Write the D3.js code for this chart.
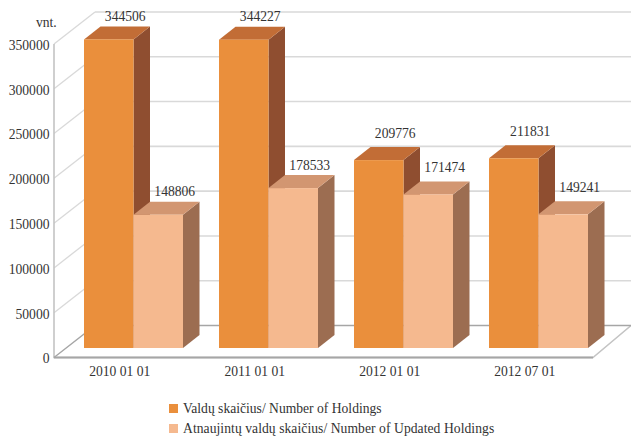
<!DOCTYPE html>
<html><head><meta charset="utf-8">
<script src="https://cdn.jsdelivr.net/npm/d3@7/dist/d3.min.js"></script>
<style>html,body{margin:0;padding:0;background:#fff}svg{display:block}text{font-family:"Liberation Serif",serif;fill:#333}</style>
</head><body><div id="c"></div>
<script>
const categories = ["2010 01 01","2011 01 01","2012 01 01","2012 07 01"];
const holdings = [344506,344227,209776,211831];
const updated = [148806,178533,171474,149241];
const seriesNames = ["Valdų skaičius/ Number of Holdings","Atnaujintų valdų skaičius/ Number of Updated Holdings"];
const yTicks = [0,50000,100000,150000,200000,250000,300000,350000];
const unit = "vnt.";

const W=631,H=436;
const svg=d3.select("#c").append("svg").attr("width",W).attr("height",H);
const y=d3.scaleLinear().domain([0,350000]).range([357.5,44]);
const x=d3.scaleBand().domain(categories).range([54,594]);
const wallDx=41, wallDy=-32;      // depth of the plot box
const barDx=16.5, barDy=-13;      // depth of each bar
const baseDx=30, baseDy=-9.5;     // bar offset from box front
const barW=49.5;
const grid="#d9d9d9", axisC="#a6a6a6";

// walls
const g=svg.append("g");
yTicks.slice(1).forEach(t=>{
  g.append("line").attr("x1",x.range()[0]).attr("y1",y(t)).attr("x2",x.range()[0]+wallDx).attr("y2",y(t)+wallDy).attr("stroke",grid).attr("stroke-width",1.3);
  g.append("line").attr("x1",x.range()[0]+wallDx).attr("y1",y(t)+wallDy).attr("x2",W).attr("y2",y(t)+wallDy).attr("stroke",grid).attr("stroke-width",1.6);
});
// floor
const [x0,x1]=x.range();
const floorY=y(0);
g.append("path").attr("d",`M${x0},${y(350000)}V${floorY}H${x1-1}L${W},${floorY+wallDy}`).attr("fill","none").attr("stroke","#c4c4c4").attr("stroke-width",1.6);
g.append("path").attr("d",`M${x0},${floorY}H${x1-1}`).attr("stroke",axisC).attr("stroke-width",2);
g.append("path").attr("d",`M${x0},${floorY}L${x0+wallDx},${floorY+wallDy}H${W}`).attr("fill","none").attr("stroke",axisC).attr("stroke-width",1.4);

// y axis
const yAxis=d3.axisLeft(y).tickValues(yTicks).tickSize(0).tickPadding(3.5).tickFormat(d3.format("d"));
const ya=svg.append("g").attr("transform",`translate(${x0-1},1)`).call(yAxis);
ya.select(".domain").remove();
ya.selectAll("text").attr("font-size",13.6).attr("font-family","Liberation Serif").attr("fill","#333");
svg.append("text").attr("x",36).attr("y",27).attr("font-size",13.6).text(unit);

// bars
const palette=[{f:"#ea8f3c",t:"#c26d36",s:"#8f4e30"},{f:"#f5b98f",t:"#d29671",s:"#9c6d51"}];
function bar(px,w,val,c,raise){
  const top=y(val)+baseDy, bot=y(0)+baseDy;
  const gb=svg.append("g");
  gb.append("path").attr("d",`M${px+w},${top}l${barDx},${barDy}V${bot+barDy}L${px+w},${bot}Z`).attr("fill",c.s);
  gb.append("path").attr("d",`M${px},${top}l${barDx},${barDy}h${w}l${-barDx},${-barDy}Z`).attr("fill",c.t);
  gb.append("rect").attr("x",px).attr("y",top).attr("width",w).attr("height",bot-top).attr("fill",c.f);
  svg.append("text").attr("x",px+w/2+barDx).attr("y",top+barDy-5.5-raise).attr("text-anchor","middle").attr("font-size",13.6).text(val);
}
categories.forEach((c,i)=>{
  const px=x(c)+baseDx;
  const raise=i>=2?3.5:0;   // labels of the last two dates sit a little higher
  bar(px,barW,holdings[i],palette[0],raise);
  bar(px+barW,barW,updated[i],palette[1],raise);
  svg.append("text").attr("x",px+barW-13.7).attr("y",376).attr("text-anchor","middle").attr("font-size",13.6).text(c);
});

// legend
const legY=[409,429];
seriesNames.forEach((n,i)=>{
  svg.append("rect").attr("x",169).attr("y",legY[i]-5).attr("width",9).attr("height",9).attr("fill",palette[i].f);
  svg.append("text").attr("x",183).attr("y",legY[i]+4).attr("font-size",13.6).attr("letter-spacing",i?0.06:0).text(n);
});
</script></body></html>
